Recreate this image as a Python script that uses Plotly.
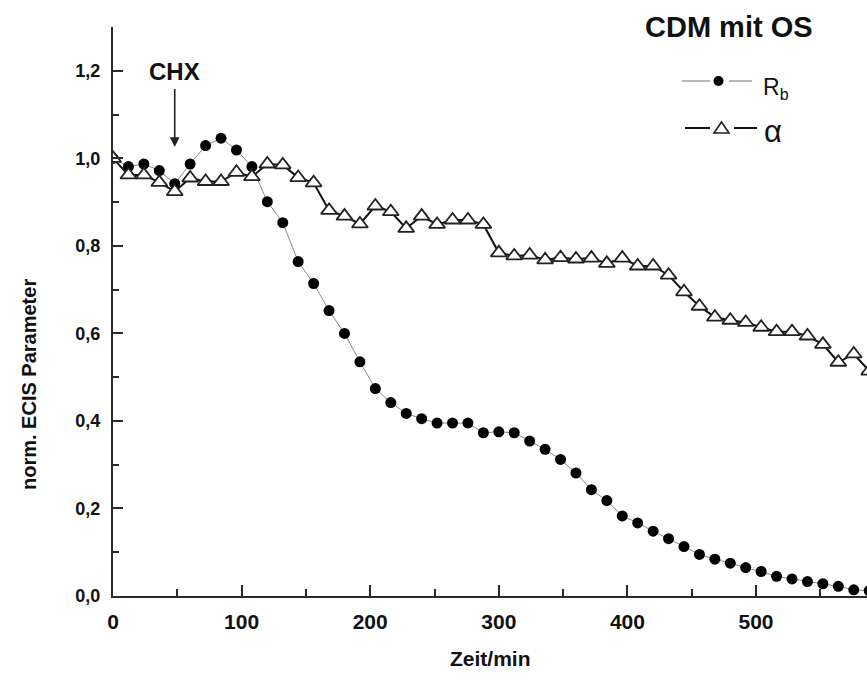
import plotly.graph_objects as go

# Messzeitpunkte in Minuten (Intervall 12 min)
zeit = [0, 12, 24, 36, 48, 60, 72, 84, 96, 108, 120, 132, 144, 156, 168, 180,
        192, 204, 216, 228, 240, 252, 264, 276, 288, 300, 312, 324, 336, 348,
        360, 372, 384, 396, 408, 420, 432, 444, 456, 468, 480, 492, 504, 516,
        528, 540, 552, 564, 576, 588]

# normierter Barrierewiderstand R_b
rb = [1.000, 0.981, 0.987, 0.972, 0.942, 0.987, 1.029, 1.046, 1.019, 0.981,
      0.901, 0.853, 0.764, 0.714, 0.652, 0.600, 0.535, 0.474, 0.442, 0.417,
      0.405, 0.395, 0.395, 0.395, 0.373, 0.375, 0.373, 0.354, 0.335, 0.312,
      0.281, 0.243, 0.218, 0.183, 0.167, 0.148, 0.131, 0.113, 0.095, 0.084,
      0.075, 0.065, 0.056, 0.045, 0.039, 0.033, 0.028, 0.022, 0.014, 0.012]

# normierter Parameter alpha
alpha = [1.000, 0.962, 0.962, 0.945, 0.924, 0.955, 0.947, 0.947, 0.968, 0.958,
         0.987, 0.985, 0.956, 0.944, 0.881, 0.868, 0.850, 0.891, 0.878, 0.840,
         0.868, 0.849, 0.859, 0.859, 0.849, 0.784, 0.777, 0.779, 0.768, 0.773,
         0.770, 0.772, 0.760, 0.772, 0.754, 0.754, 0.733, 0.695, 0.662, 0.637,
         0.630, 0.625, 0.614, 0.604, 0.604, 0.594, 0.575, 0.534, 0.553, 0.514]

x_ticks = [0, 100, 200, 300, 400, 500]
y_ticks = [0.0, 0.2, 0.4, 0.6, 0.8, 1.0, 1.2]
y_minor = [0.1, 0.3, 0.5, 0.7, 0.9, 1.1]

CHX_ZEIT = 48      # Zugabe von CHX
CHX_PFEIL = 1.026  # Pfeilspitze

W, H = 867, 684
ML, MR, MT, MB = 113, 0, 27, 88
X_MAX = 586.3
Y_MAX = 1.3
FONT = "Arial, Liberation Sans, sans-serif"
AXIS_COLOR = "#2a2a2a"
TEXT_COLOR = "#111111"


def paper(px, py):
    """Pixel position in the figure -> paper coordinates."""
    return (px - ML) / (W - ML - MR), (H - MB - py) / (H - MT - MB)


fig = go.Figure()

fig.add_trace(go.Scatter(
    x=zeit, y=rb, mode="lines+markers", name="R_b",
    line=dict(color="#8a8a8a", width=1),
    marker=dict(symbol="circle", size=11, color="black", line=dict(width=0)),
))
fig.add_trace(go.Scatter(
    x=zeit, y=alpha, mode="lines+markers", name="alpha",
    line=dict(color="#111111", width=2),
    marker=dict(symbol="triangle-up", size=14, color="white",
                line=dict(color="#222222", width=1.8)),
))

# hand-drawn legend key
shapes = []
annotations = []


def seg(x0, x1, y, color, width):
    a = paper(x0, y)
    b = paper(x1, y)
    shapes.append(dict(type="line", xref="paper", yref="paper",
                       x0=a[0], y0=a[1], x1=b[0], y1=b[1],
                       line=dict(color=color, width=width)))


# R_b row
seg(682, 710, 81, "#8a8a8a", 1.2)
seg(729, 752, 81, "#8a8a8a", 1.2)
c0 = paper(713.5, 76)
c1 = paper(723.5, 86)
shapes.append(dict(type="circle", xref="paper", yref="paper",
                   x0=c0[0], y0=c1[1], x1=c1[0], y1=c0[1],
                   fillcolor="black", line=dict(width=0)))
# alpha row
seg(685, 710, 128, "#111111", 2)
seg(734, 757, 128, "#111111", 2)
p1 = paper(714, 133)
p2 = paper(729, 133)
p3 = paper(721.5, 122)
shapes.append(dict(type="path", xref="paper", yref="paper",
                   path=f"M{p1[0]},{p1[1]} L{p2[0]},{p2[1]} L{p3[0]},{p3[1]} Z",
                   fillcolor="white", line=dict(color="#222222", width=1.6)))

lx, ly = paper(761, 88)
annotations.append(dict(xref="paper", yref="paper", x=lx, y=ly,
                        text="R<sub>b</sub>", showarrow=False,
                        xanchor="left", yanchor="middle",
                        font=dict(family=FONT, size=23, color=TEXT_COLOR)))
lx, ly = paper(762, 131)
annotations.append(dict(xref="paper", yref="paper", x=lx, y=ly,
                        text="α", showarrow=False,
                        xanchor="left", yanchor="middle",
                        font=dict(family=FONT, size=31, color=TEXT_COLOR)))

# title in the upper right
tx, ty = paper(729, 27)
annotations.append(dict(xref="paper", yref="paper", x=tx, y=ty,
                        text="<b>CDM mit OS</b>", showarrow=False,
                        xanchor="center", yanchor="middle",
                        font=dict(family=FONT, size=29, color=TEXT_COLOR)))

# CHX label with arrow pointing down onto the curves
annotations.append(dict(x=CHX_ZEIT, y=CHX_PFEIL, xref="x", yref="y",
                        text="<b>CHX</b>", showarrow=True,
                        ax=0, ay=-75, axref="pixel", ayref="pixel",
                        arrowhead=2, arrowsize=1.2, arrowwidth=1.6,
                        arrowcolor="#222222", standoff=0, startstandoff=2,
                        font=dict(family=FONT, size=24, color=TEXT_COLOR)))

# axis titles
tx, ty = paper(490, 658)
annotations.append(dict(xref="paper", yref="paper", x=tx, y=ty,
                        text="<b>Zeit/min</b>", showarrow=False,
                        xanchor="center", yanchor="middle",
                        font=dict(family=FONT, size=21, color=TEXT_COLOR)))
tx, ty = paper(29, 385)
annotations.append(dict(xref="paper", yref="paper", x=tx, y=ty,
                        text="<b>norm. ECIS Parameter</b>", showarrow=False,
                        textangle=-90, xanchor="center", yanchor="middle",
                        font=dict(family=FONT, size=20, color=TEXT_COLOR)))

fig.update_layout(
    width=W, height=H,
    margin=dict(l=ML, r=MR, t=MT, b=MB),
    plot_bgcolor="white", paper_bgcolor="white",
    showlegend=False,
    separators=",.",
    font=dict(family=FONT, color=TEXT_COLOR),
    shapes=shapes,
    annotations=annotations,
)

fig.update_xaxes(
    range=[0, X_MAX], showgrid=False, zeroline=False,
    showline=True, linecolor=AXIS_COLOR, linewidth=2,
    ticks="inside", ticklen=11, tickwidth=2, tickcolor=AXIS_COLOR,
    tickmode="array", tickvals=x_ticks, ticktext=[str(v) for v in x_ticks],
    tickfont=dict(family=FONT, size=21, weight="bold", color=TEXT_COLOR),
    ticklabelstandoff=6,
    minor=dict(ticks="inside", ticklen=7, tickwidth=2, tickcolor=AXIS_COLOR,
               dtick=50, tick0=0),
)
fig.update_yaxes(
    range=[0, Y_MAX], showgrid=False, zeroline=False,
    showline=True, linecolor=AXIS_COLOR, linewidth=2,
    ticks="inside", ticklen=10, tickwidth=2, tickcolor=AXIS_COLOR,
    tickmode="array", tickvals=y_ticks,
    ticktext=[f"{v:.1f}".replace(".", ",") for v in y_ticks],
    tickfont=dict(family=FONT, size=18, weight="bold", color=TEXT_COLOR),
    ticklabelstandoff=7,
    minor=dict(ticks="inside", ticklen=6, tickwidth=2, tickcolor=AXIS_COLOR,
               tickvals=y_minor),
)

fig.write_html("out.html")
